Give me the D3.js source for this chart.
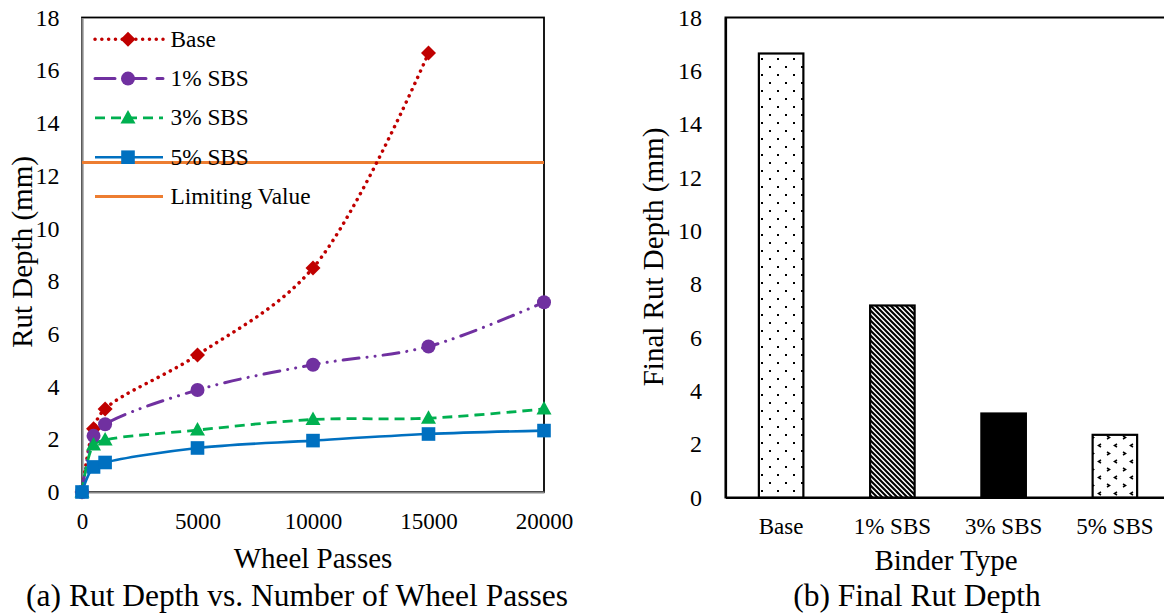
<!DOCTYPE html>
<html><head><meta charset="utf-8">
<script src="https://cdn.jsdelivr.net/npm/d3@7"></script>
<style>
html,body{margin:0;padding:0;background:#fff;}
svg{display:block;font-family:"Liberation Serif","Times New Roman",serif;}
</style></head>
<body>
<svg id="c" width="1164" height="616"></svg>
<script>
// ---- data ----
const wheelPasses = [0, 500, 1000, 5000, 10000, 15000, 20000];
const seriesNames = ["Base", "1% SBS", "3% SBS", "5% SBS"];
const baseValues = [0, 2.4, 3.15, 5.2, 8.5, 16.65, null];
const sbs1Values = [0, 2.13, 2.57, 3.87, 4.83, 5.52, 7.2];
const sbs3Values = [0, 1.78, 1.97, 2.35, 2.75, 2.8, 3.15];
const sbs5Values = [0, 0.95, 1.12, 1.67, 1.95, 2.2, 2.33];
const limitingValue = 12.5;
const limitingName = "Limiting Value";
const xTicksA = [0, 5000, 10000, 15000, 20000];
const yTicks = [0, 2, 4, 6, 8, 10, 12, 14, 16, 18];
const binderTypes = ["Base", "1% SBS", "3% SBS", "5% SBS"];
const finalRut = [16.65, 7.2, 3.15, 2.35];

const svg = d3.select("#c");
const FONT = "Liberation Serif";

// ---- patterns ----
const defs = svg.append("defs");
const pDots = defs.append("pattern").attr("id","pDots").attr("patternUnits","userSpaceOnUse")
  .attr("width",16).attr("height",16);
pDots.append("rect").attr("width",16).attr("height",16).attr("fill","#fff");
pDots.append("rect").attr("x",1).attr("y",2).attr("width",2).attr("height",2).attr("fill","#000");
pDots.append("rect").attr("x",9).attr("y",10).attr("width",2).attr("height",2).attr("fill","#000");
const pDiag = defs.append("pattern").attr("id","pDiag").attr("patternUnits","userSpaceOnUse")
  .attr("width",5).attr("height",5);
pDiag.append("rect").attr("width",5).attr("height",5).attr("fill","#fff");
pDiag.append("path").attr("d","M-1,-1 L6,6 M-1,4 L1,6 M4,-1 L6,1").attr("stroke","#000").attr("stroke-width",2.1);
const pDiv = defs.append("pattern").attr("id","pDiv").attr("patternUnits","userSpaceOnUse")
  .attr("width",16).attr("height",16);
pDiv.append("rect").attr("width",16).attr("height",16).attr("fill","#fff");
pDiv.append("path").attr("d","M3,4 L5.5,5.5 L3,7 M13,12 L10.5,13.5 L13,15")
  .attr("stroke","#000").attr("stroke-width",1.5).attr("fill","none");
const fills = ["url(#pDots)","url(#pDiag)","#000","url(#pDiv)"];

// ================= Chart (a) =================
const ax = {l:82, r:544, t:17.5, b:492};
const x = d3.scaleLinear().domain([0,20000]).range([ax.l, ax.r]);
const y = d3.scaleLinear().domain([0,18]).range([ax.b, ax.t]);

const gA = svg.append("g");
gA.append("rect").attr("x",ax.l).attr("y",ax.t).attr("width",ax.r-ax.l).attr("height",ax.b-ax.t)
  .attr("fill","none").attr("stroke","#000").attr("stroke-width",1.8);
const gyA = gA.append("g").attr("transform",`translate(${ax.l},0)`)
  .call(d3.axisLeft(y).tickValues(yTicks).tickSize(0).tickPadding(22.5));
const gxA = gA.append("g").attr("transform",`translate(0,${ax.b})`)
  .call(d3.axisBottom(x).tickValues(xTicksA).tickSize(0).tickFormat(d3.format("d")));
[gyA,gxA].forEach(g=>{
  g.select(".domain").attr("stroke","#878787").attr("stroke-width",2.2);
  g.selectAll("text").attr("font-family",FONT).attr("fill","#000");
});
gyA.selectAll("text").attr("font-size",24);
gxA.selectAll("text").attr("font-size",23).attr("dy",null).attr("y",37);

gA.append("text").attr("transform",`translate(32,252) rotate(-90)`)
  .attr("text-anchor","middle").attr("font-family",FONT).attr("font-size",29).text("Rut Depth (mm)");
gA.append("text").attr("x",313).attr("y",568).attr("text-anchor","middle")
  .attr("font-family",FONT).attr("font-size",29).text("Wheel Passes");
gA.append("text").attr("x",297).attr("y",606).attr("text-anchor","middle")
  .attr("font-family",FONT).attr("font-size",31.5).text("(a) Rut Depth vs. Number of Wheel Passes");

const seriesVals = [baseValues, sbs1Values, sbs3Values, sbs5Values];
const colors = ["#C00000","#7030A0","#00B050","#0070C0"];
const dashes = ["0.1 6.7","16 8 0.1 8 0.1 8","10 6",null];
const caps = ["round","round","butt","butt"];
const widths = [3.5,3,2.8,2.6];

const line = d3.line().defined(d=>d[1]!=null).x(d=>x(d[0])).y(d=>y(d[1])).curve(d3.curveCatmullRom.alpha(0.5));

gA.append("line").attr("x1",ax.l).attr("x2",ax.r).attr("y1",y(limitingValue)).attr("y2",y(limitingValue))
  .attr("stroke","#ED7D31").attr("stroke-width",3);

function marker(g, i, cx, cy){
  const c = colors[i];
  if(i===0){
    g.append("path").attr("d",`M${cx},${cy-7.5} L${cx+7.5},${cy} L${cx},${cy+7.5} L${cx-7.5},${cy} Z`).attr("fill",c);
  } else if(i===1){
    g.append("circle").attr("cx",cx).attr("cy",cy).attr("r",7).attr("fill",c);
  } else if(i===2){
    g.append("path").attr("d",`M${cx},${cy-8} L${cx+7.5},${cy+5.5} L${cx-7.5},${cy+5.5} Z`).attr("fill",c);
  } else {
    g.append("rect").attr("x",cx-6.8).attr("y",cy-6.8).attr("width",13.6).attr("height",13.6).attr("fill",c);
  }
}

[0,1,2,3].forEach(i=>{
  const pts = wheelPasses.map((w,k)=>[w, seriesVals[i][k]]);
  gA.append("path").datum(pts).attr("d",line).attr("fill","none")
    .attr("stroke",colors[i]).attr("stroke-width",widths[i])
    .attr("stroke-dasharray",dashes[i]).attr("stroke-linecap",caps[i]);
});
[0,1,2,3].forEach(i=>{
  wheelPasses.map((w,k)=>[w, seriesVals[i][k]]).filter(d=>d[1]!=null)
    .forEach(p=>marker(gA,i,x(p[0]),y(p[1])));
});

// legend
const legY = [39.3, 78.6, 117.9, 157.2, 196.5];
const leg = gA.append("g");
const legDash = ["0.1 6.7","20 11",null,null];
seriesNames.forEach((n,i)=>{
  leg.append("line").attr("x1",95).attr("x2",163).attr("y1",legY[i]).attr("y2",legY[i])
    .attr("stroke",colors[i]).attr("stroke-width",widths[i])
    .attr("stroke-dasharray", i===2 ? "10 6" : legDash[i]).attr("stroke-linecap",caps[i]);
  marker(leg,i,128,legY[i]);
  leg.append("text").attr("x",170.5).attr("y",legY[i]+7.5).attr("font-family",FONT).attr("font-size",23.3).text(n);
});
leg.append("line").attr("x1",95).attr("x2",163).attr("y1",legY[4]).attr("y2",legY[4])
  .attr("stroke","#ED7D31").attr("stroke-width",3);
leg.append("text").attr("x",170.5).attr("y",legY[4]+7.5).attr("font-family",FONT).attr("font-size",23.3).text(limitingName);

// ================= Chart (b) =================
const bx = {l:725.5, r:1170.5, t:17.5, b:497.5};
const xb = d3.scaleBand().domain(binderTypes).range([bx.l,bx.r]).paddingInner(0.6).paddingOuter(0.3);
const yb = d3.scaleLinear().domain([0,18]).range([bx.b,bx.t]);
const gB = svg.append("g");
gB.append("rect").attr("x",bx.l).attr("y",bx.t).attr("width",bx.r-bx.l).attr("height",bx.b-bx.t)
  .attr("fill","none").attr("stroke","#000").attr("stroke-width",2);
gB.selectAll("rect.bar").data(binderTypes).join("rect").attr("class","bar")
  .attr("x",d=>xb(d)).attr("width",xb.bandwidth())
  .attr("y",(d,i)=>yb(finalRut[i])).attr("height",(d,i)=>yb(0)-yb(finalRut[i]))
  .attr("fill",(d,i)=>fills[i]).attr("stroke","#000").attr("stroke-width",2.2);
const gyB = gB.append("g").attr("transform",`translate(${bx.l},0)`)
  .call(d3.axisLeft(yb).tickValues(yTicks).tickSize(0).tickPadding(23.5));
const gxB = gB.append("g").attr("transform",`translate(0,${bx.b})`)
  .call(d3.axisBottom(xb).tickSize(0));
[gyB,gxB].forEach(g=>{
  g.select(".domain").attr("stroke","#000").attr("stroke-width",2.2);
  g.selectAll("text").attr("font-family",FONT).attr("fill","#000");
});
gyB.selectAll("text").attr("font-size",24);
gxB.selectAll("text").attr("font-size",23).attr("dy",null).attr("y",36.5);
gB.append("text").attr("transform",`translate(663,257) rotate(-90)`)
  .attr("text-anchor","middle").attr("font-family",FONT).attr("font-size",29).text("Final Rut Depth (mm)");
gB.append("text").attr("x",946).attr("y",570).attr("text-anchor","middle")
  .attr("font-family",FONT).attr("font-size",29).text("Binder Type");
gB.append("text").attr("x",917).attr("y",606).attr("text-anchor","middle")
  .attr("font-family",FONT).attr("font-size",31.5).text("(b) Final Rut Depth");
</script>
</body></html>
